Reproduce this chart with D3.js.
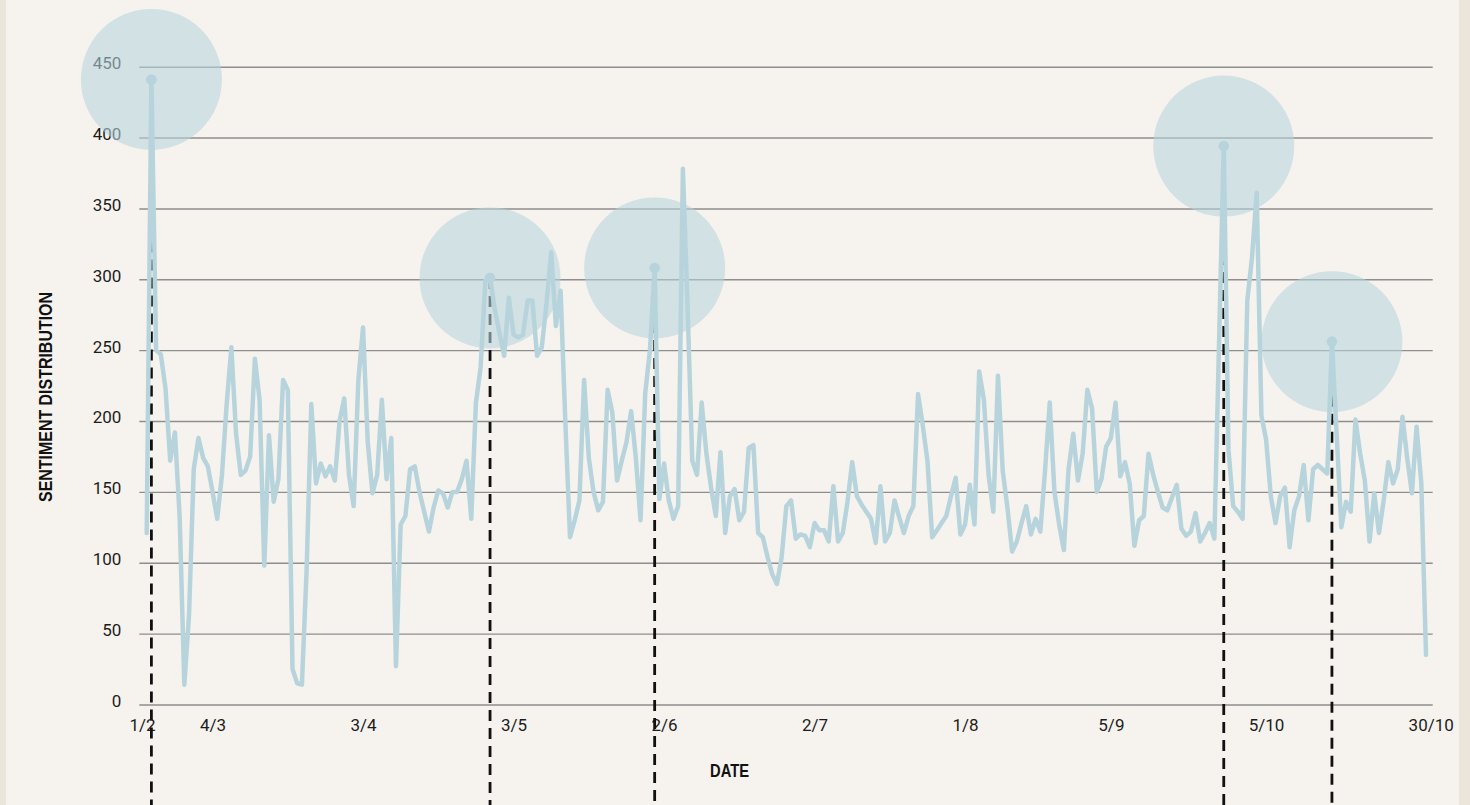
<!DOCTYPE html>
<html>
<head>
<meta charset="utf-8">
<script src="https://cdnjs.cloudflare.com/ajax/libs/d3/7.8.5/d3.min.js"></script>
<style>
  html, body { margin: 0; padding: 0; background: #f6f3ee; }
  #chart { width: 1470px; height: 805px; }
</style>
</head>
<body>
<div id="chart"></div>
<script>
// daily sentiment count, one value per day (index 0 = first day)
const sentiment = [
  121, 441, 250, 247, 223, 172, 192, 133, 14, 63, 166, 188, 174, 168, 150, 131, 162, 212, 252, 191,
  162, 165, 175, 244, 215, 98, 190, 143, 159, 229, 222, 25, 15, 14, 95, 212, 156, 170, 161, 168,
  158, 200, 216, 162, 140, 229, 266, 185, 149, 162, 215, 159, 188, 27, 127, 133, 166, 168, 150, 136,
  122, 139, 151, 149, 139, 150, 150, 159, 172, 131, 213, 238, 299, 301, 279, 262, 246, 287, 261, 259,
  261, 285, 285, 246, 252, 283, 319, 267, 292, 200, 118, 130, 144, 229, 174, 150, 137, 143, 222, 206,
  158, 172, 185, 207, 174, 130, 220, 250, 308, 145, 170, 144, 131, 140, 378, 280, 172, 162, 213, 177,
  153, 133, 178, 121, 147, 152, 130, 136, 181, 183, 121, 118, 104, 92, 85, 104, 140, 144, 117, 120,
  119, 111, 128, 123, 123, 115, 154, 115, 121, 143, 171, 147, 141, 136, 131, 114, 154, 115, 121, 144,
  132, 121, 133, 140, 219, 197, 172, 118, 123, 128, 133, 147, 160, 120, 127, 155, 127, 235, 215, 162,
  136, 232, 165, 139, 108, 115, 128, 140, 120, 131, 122, 165, 213, 150, 127, 109, 166, 191, 158, 177,
  222, 209, 150, 159, 182, 188, 213, 161, 171, 156, 112, 130, 133, 177, 162, 150, 139, 137, 146, 155,
  124, 119, 122, 135, 115, 121, 128, 117, 255, 394, 180, 140, 136, 131, 285, 315, 361, 204, 187, 147,
  128, 147, 153, 111, 137, 147, 169, 130, 166, 169, 166, 163, 256, 191, 125, 143, 136, 201, 177, 158,
  115, 149, 121, 144, 171, 156, 166, 203, 174, 149, 196, 156, 35
];

// x axis labels and the day index they sit under
const tickLabels = ["1/2", "4/3", "3/4", "3/5", "2/6", "2/7", "1/8", "5/9", "5/10", "30/10"];
const tickDays = [-1, 14, 46, 78, 110, 142, 174, 205, 238, 273];

const yTicks = [0, 50, 100, 150, 200, 250, 300, 350, 400, 450];

// days that get a circle + dashed drop line
const highlightDays = [1, 73, 108, 229, 252];

const width = 1470, height = 805;
const lineColor = "#b7d4dc";

const svg = d3.select("#chart")
    .append("svg")
    .attr("width", width)
    .attr("height", height);

// page edges
svg.append("rect").attr("x", 0).attr("y", 0).attr("width", 6).attr("height", height).attr("fill", "#ebe5dc");
svg.append("rect").attr("x", 1459).attr("y", 0).attr("width", 11).attr("height", height).attr("fill", "#ebe5dc");

// scales
const x = d3.scaleLinear()
    .domain([0, sentiment.length - 1])
    .range([146.7, 1426]);

const y = d3.scaleLinear()
    .domain([0, 450])
    .range([704.5, 66.7]);

const gridLeft = 139.3, gridRight = 1432.7;

// y axis + grid
const yAxis = svg.append("g")
    .attr("transform", "translate(" + gridLeft + ",0)")
    .call(d3.axisLeft(y)
        .tickValues(yTicks)
        .tickSize(-(gridRight - gridLeft))
        .tickPadding(18));
yAxis.select(".domain").remove();
yAxis.selectAll(".tick line")
    .attr("stroke", "#8e8e8e")
    .attr("stroke-width", 1.4);
yAxis.selectAll(".tick text")
    .attr("fill", "#1c1c1c")
    .attr("transform", "translate(0,-3.5)")
    .style("font-family", "Roboto, 'Liberation Sans', sans-serif")
    .style("font-size", "17px");

// x axis labels
const xAxis = svg.append("g")
    .attr("transform", "translate(0," + y(0) + ")")
    .call(d3.axisBottom(x)
        .tickValues(tickDays)
        .tickFormat((d, i) => tickLabels[i])
        .tickSize(0)
        .tickPadding(14));
xAxis.select(".domain").remove();
xAxis.selectAll(".tick text")
    .attr("fill", "#1c1c1c")
    .style("font-family", "Roboto, 'Liberation Sans', sans-serif")
    .style("font-size", "17px");

// dashed drop lines
svg.append("g")
    .selectAll("line")
    .data(highlightDays)
    .enter().append("line")
    .attr("x1", d => x(d))
    .attr("x2", d => x(d))
    .attr("y1", d => y(sentiment[d]))
    .attr("y2", height)
    .attr("stroke", "#111")
    .attr("stroke-width", 2.8)
    .attr("stroke-dasharray", "11,7");

// highlight circles
svg.append("g")
    .selectAll("circle")
    .data(highlightDays)
    .enter().append("circle")
    .attr("cx", d => x(d))
    .attr("cy", d => y(sentiment[d]))
    .attr("r", 70.5)
    .attr("fill", lineColor)
    .attr("opacity", 0.58);

// the series
const line = d3.line()
    .x((d, i) => x(i))
    .y(d => y(d));

svg.append("path")
    .datum(sentiment)
    .attr("d", line)
    .attr("fill", "none")
    .attr("stroke", lineColor)
    .attr("stroke-width", 4.5)
    .attr("stroke-linejoin", "round")
    .attr("stroke-linecap", "round");

// peak markers
svg.append("g")
    .selectAll("circle")
    .data(highlightDays)
    .enter().append("circle")
    .attr("cx", d => x(d))
    .attr("cy", d => y(sentiment[d]))
    .attr("r", 5.3)
    .attr("fill", lineColor);

// axis titles
svg.append("text")
    .attr("transform", "translate(52,397) rotate(-90)")
    .attr("text-anchor", "middle")
    .attr("textLength", 210)
    .attr("lengthAdjust", "spacingAndGlyphs")
    .style("font-family", "'Liberation Sans Narrow', 'Arial Narrow', sans-serif")
    .style("font-weight", "bold")
    .style("font-size", "19px")
    .attr("fill", "#111")
    .text("SENTIMENT DISTRIBUTION");

svg.append("text")
    .attr("x", 729.5)
    .attr("y", 777)
    .attr("text-anchor", "middle")
    .attr("textLength", 39)
    .attr("lengthAdjust", "spacingAndGlyphs")
    .style("font-family", "'Liberation Sans Narrow', 'Arial Narrow', sans-serif")
    .style("font-weight", "bold")
    .style("font-size", "19px")
    .attr("fill", "#111")
    .text("DATE");
</script>
</body>
</html>
